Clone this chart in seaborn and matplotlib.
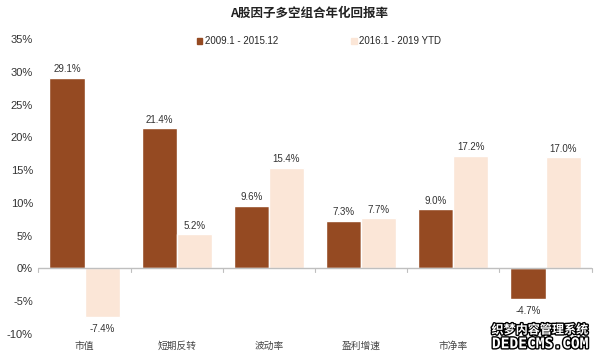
import matplotlib
matplotlib.use("Agg")
import matplotlib.pyplot as plt
import matplotlib.patheffects as pe
import seaborn as sns
import pandas as pd
import numpy as np

# 数据
categories = ["市值", "短期反转", "波动率", "盈利增速", "市净率", ""]
series_names = ["2009.1 - 2015.12", "2016.1 - 2019 YTD"]
returns_2009_2015 = [29.1, 21.4, 9.6, 7.3, 9.0, -4.7]
returns_2016_2019 = [-7.4, 5.2, 15.4, 7.7, 17.2, 17.0]
y_ticks = [-10, -5, 0, 5, 10, 15, 20, 25, 30, 35]

colors = ["#954A22", "#FBE6D7"]
latin = ["Liberation Sans", "DejaVu Sans"]

sns.set_theme(style="white")
plt.rcParams["font.family"] = ["Noto Sans CJK SC", "DejaVu Sans"]
plt.rcParams["axes.unicode_minus"] = False

df = pd.DataFrame({
    "因子": categories * 2,
    "区间": [series_names[0]] * len(categories) + [series_names[1]] * len(categories),
    "回报": returns_2009_2015 + returns_2016_2019,
})

fig = plt.figure(figsize=(6, 3.58), dpi=100)
ax = fig.add_axes([0.064, 0.067, 0.922, 0.824])

sns.barplot(data=df, x="因子", y="回报", hue="区间", palette=colors,
            width=0.76, saturation=1, ax=ax, legend=False)

ax.set_xlim(-0.5, len(categories) - 0.5)
ax.set_ylim(y_ticks[0], y_ticks[-1])
ax.set_yticks(y_ticks)
ax.set_yticklabels([f"{t}%" for t in y_ticks], fontsize=8, color="#333333", family=latin)
ax.tick_params(axis="y", length=0, pad=4)
ax.tick_params(axis="x", length=0, pad=5, labelsize=7, labelcolor="#444444")
ax.set_xlabel("")
ax.set_ylabel("")
for s in ax.spines.values():
    s.set_visible(False)

# 0% 轴线与分隔刻度
ax.axhline(0, color="#BFBFBF", linewidth=1)
for b in np.arange(len(categories) + 1) - 0.5:
    ax.plot([b, b], [0, -0.5], color="#BFBFBF", linewidth=0.8, clip_on=False)

# 数值标签
for container in ax.containers:
    for bar in container:
        v = bar.get_height()
        x = bar.get_x() + bar.get_width() / 2
        if v >= 0:
            ax.annotate(f"{v:.1f}%", (x, v), xytext=(0, 2.5), textcoords="offset points",
                        ha="center", va="bottom", fontsize=7, color="#333333",
                        family=latin, annotation_clip=False)
        else:
            ax.annotate(f"{v:.1f}%", (x, v), xytext=(0, -5), textcoords="offset points",
                        ha="center", va="top", fontsize=7, color="#333333",
                        family=latin, annotation_clip=False)

# 图例
handles = [plt.Rectangle((0, 0), 1, 1, color=c) for c in colors]
fig.legend(handles, series_names, loc="center left", bbox_to_anchor=(0.313, 0.885),
           ncol=2, frameon=False, handlelength=0.6, handleheight=0.6,
           handletextpad=0.25, columnspacing=7.5,
           prop={"family": latin, "size": 7})

fig.text(0.515, 0.962, "A股因子多空组合年化回报率", ha="center", va="center",
         fontsize=9, fontweight="bold", color="#222222")

# 水印
wm_effect = [pe.withStroke(linewidth=2, foreground="black")]
fig.text(0.9, 0.078, "织梦内容管理系统", ha="center", va="center", fontsize=8.7,
         fontweight="bold", color="white", path_effects=wm_effect)
fig.text(0.9, 0.040, "DEDECMS.COM", ha="center", va="center", fontsize=10.5,
         fontweight="bold", color="white", path_effects=wm_effect,
         family=["DejaVu Sans Mono", "DejaVu Sans"])

fig.savefig("out.png", dpi=100)
